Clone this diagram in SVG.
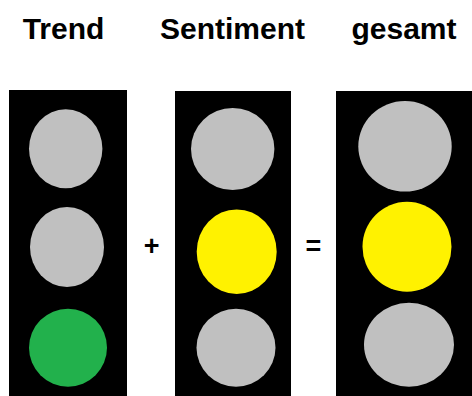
<svg xmlns="http://www.w3.org/2000/svg" width="472" height="396" viewBox="0 0 472 396">
<style>
.title{font-family:"Liberation Sans",Arial,sans-serif;font-weight:bold;font-size:30px;fill:#000;text-anchor:middle}
.op{font-family:"Liberation Sans",Arial,sans-serif;font-weight:bold;font-size:27px;fill:#000;text-anchor:middle}
.housing{fill:#000}
.off{fill:#c0c0c0}
.green{fill:#22b14c}
.yellow{fill:#fff200}
</style>
<rect width="472" height="396" fill="#fff"/>
<g id="trend">
<text class="title" x="63.5" y="39">Trend</text>
<rect class="housing" x="9" y="90" width="118" height="306"/>
<ellipse class="off" cx="65.7" cy="148.8" rx="36.7" ry="39.5"/>
<ellipse class="off" cx="67" cy="247" rx="37" ry="40"/>
<ellipse class="green" cx="68" cy="347.7" rx="39" ry="39"/>
</g>
<g id="sentiment">
<text class="title" x="232.5" y="39">Sentiment</text>
<rect class="housing" x="175" y="91" width="116" height="305"/>
<ellipse class="off" cx="232.7" cy="149" rx="41.7" ry="41"/>
<ellipse class="yellow" cx="236.7" cy="251.7" rx="40" ry="42.3"/>
<ellipse class="off" cx="236" cy="347.7" rx="39.5" ry="39"/>
</g>
<g id="gesamt">
<text class="title" x="404" y="39">gesamt</text>
<rect class="housing" x="336" y="91" width="136" height="305"/>
<ellipse class="off" cx="405" cy="146.3" rx="46.7" ry="45.3"/>
<ellipse class="yellow" cx="407" cy="246.7" rx="44.5" ry="45"/>
<ellipse class="off" cx="409" cy="344.7" rx="45" ry="42"/>
</g>
<g id="connectors">
<text class="op" x="151.7" y="255">+</text>
<text class="op" x="313.3" y="255">=</text>
</g>
</svg>
